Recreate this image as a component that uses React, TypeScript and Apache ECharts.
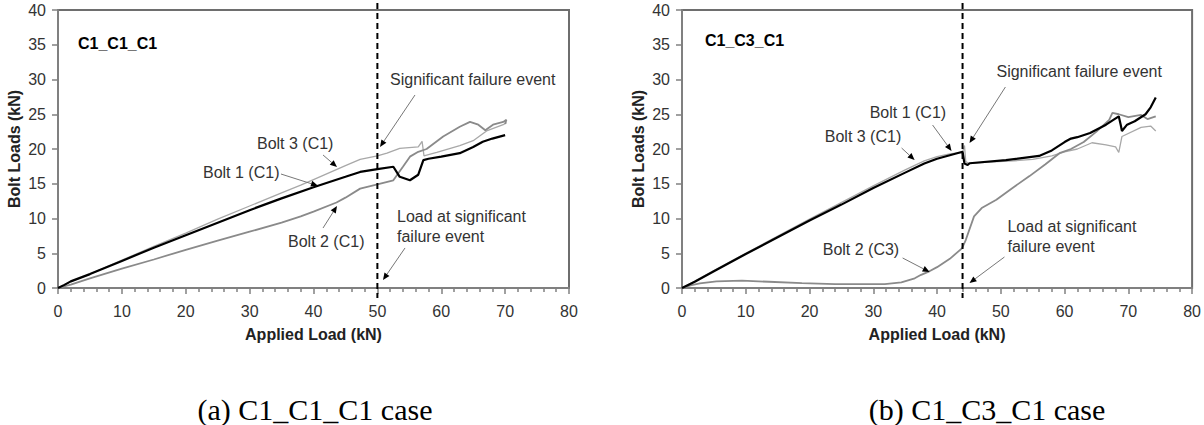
import React, { useEffect, useRef } from "react";
import * as echarts from "echarts";

type P = [number, number];

// ---------- data (Applied Load kN, Bolt Load kN) ----------
const xTicks = { min: 0, max: 80, interval: 10 };
const yTicks = { min: 0, max: 40, interval: 5 };

const leftBolt1: P[] = [
  [0, 0], [1, 0.45], [2, 0.95], [5, 2.0], [10, 3.9], [15, 5.8], [20, 7.6], [25, 9.4], [30, 11.2],
  [35, 12.9], [40, 14.5], [45, 16.0], [47.3, 16.7], [50, 17.1], [52.5, 17.45], [53.5, 16.0],
  [55.1, 15.5], [56.4, 16.3], [57.2, 18.4], [58, 18.6], [60, 18.9], [62.9, 19.4], [65, 20.3],
  [66.5, 21.05], [68, 21.5], [70, 22.0],
];
const leftBolt2: P[] = [
  [0, 0], [2, 0.5], [5, 1.4], [10, 2.8], [15, 4.1], [20, 5.5], [25, 6.8], [30, 8.1], [35, 9.4],
  [38, 10.3], [40, 11.0], [43.6, 12.3], [45, 13.0], [47.3, 14.3], [50, 14.9], [52.5, 15.5],
  [54, 17.45], [55.1, 18.9], [56.4, 19.6], [57.7, 20.0], [60.3, 21.8], [62.9, 23.2], [64.5, 23.9],
  [65.8, 23.5], [66.9, 22.7], [68.1, 23.5], [69.7, 23.9], [70.2, 24.2], [70.0, 23.6],
];
const leftBolt3: P[] = [
  [0, 0], [2, 0.9], [5, 2.0], [10, 4.0], [15, 6.0], [20, 7.9], [25, 9.9], [30, 11.8], [35, 13.7],
  [38, 14.8], [40, 15.6], [45, 17.6], [47.3, 18.5], [50, 19.0], [51.5, 19.4], [53.5, 20.1],
  [56.4, 20.3], [57.0, 21.1], [57.3, 19.0], [58, 19.2], [59.3, 19.5], [62.9, 20.5], [65, 21.2],
  [66.5, 22.2], [67.1, 22.6], [69.7, 23.5], [70.2, 23.8],
];

const rightBolt1: P[] = [
  [0, 0], [2, 0.9], [5, 2.4], [10, 4.9], [15, 7.3], [20, 9.7], [25, 12.0], [30, 14.4], [35, 16.6],
  [38, 17.9], [40, 18.6], [42, 19.1], [44.0, 19.6], [44.3, 17.9], [44.8, 17.7], [45.1, 17.95],
  [50.8, 18.4], [56, 19.0], [58, 19.8], [60, 21.0], [61, 21.5], [62, 21.7], [64, 22.3],
  [66.5, 23.5], [68.5, 24.7], [68.8, 23.5], [69, 22.6], [69.8, 23.5], [71, 24.0], [72.7, 25.0],
  [73.5, 26.0], [74.3, 27.4],
];
const rightBolt2: P[] = [
  [0, 0], [1.5, 0.4], [2.8, 0.67], [5.4, 0.95], [9.4, 1.05], [13.6, 0.9], [18.8, 0.7], [24, 0.55],
  [31.8, 0.55], [34.4, 0.8], [36.5, 1.4], [37.5, 1.9], [38.8, 2.4], [40, 3.0], [42, 4.2],
  [43.9, 5.7], [44.5, 6.9], [45.8, 10.3], [47, 11.5], [49.3, 12.7], [52, 14.5], [54.5, 16.1],
  [57, 17.8], [59.2, 19.4], [61, 20.0], [63, 21.0], [65, 22.5], [67, 24.2], [67.5, 25.2],
  [68.5, 25.0], [70, 24.6], [72, 24.9], [73, 24.3], [74.3, 24.7],
];
const rightBolt3: P[] = [
  [0, 0], [5, 2.5], [10, 5.0], [20, 9.9], [30, 14.7], [35, 17.0], [38, 18.3], [40, 18.9], [42, 19.3],
  [44, 19.5], [44.3, 20.5], [44.5, 18.2], [45, 17.9], [48, 18.1], [52, 18.3], [55, 18.5], [58, 19.0],
  [60, 19.6], [62, 20.0], [64.3, 20.9], [66.5, 20.6], [68, 20.3], [68.5, 19.5], [69, 21.8],
  [72, 23.1], [73.5, 23.3], [74.3, 22.6],
];

const failureLoads = [50, 44];
const caseTitles = ["C1_C1_C1", "C1_C3_C1"];
const captions = ["(a) C1_C1_C1 case", "(b) C1_C3_C1 case"];

// ---------- annotations (data coordinates) ----------
type Lbl = { text: string; at: P; bold?: boolean };
type Arr = { from: P; to: P };
const leftLabels: Lbl[] = [
  { text: caseTitles[0], at: [3.13, 35.25], bold: true },
  { text: "Significant failure event", at: [51.98, 29.93] },
  { text: "Bolt 3 (C1)", at: [31.15, 20.72] },
  { text: "Bolt 1 (C1)", at: [22.7, 16.55] },
  { text: "Bolt 2 (C1)", at: [36.01, 6.76] },
  { text: "Load at significant", at: [53.07, 10.22] },
  { text: "failure event", at: [53.07, 7.34] },
];
const leftArrows: Arr[] = [
  { from: [55.89, 27.77], to: [50.41, 20.29] },
  { from: [41.49, 19.14], to: [43.68, 17.4] },
  { from: [34.91, 16.4], to: [40.7, 14.7] },
  { from: [41.49, 8.63], to: [43.68, 11.8] },
  { from: [54.33, 5.76], to: [50.88, 1.15] },
];
const rightLabels: Lbl[] = [
  { text: caseTitles[1], at: [3.6, 35.68], bold: true },
  { text: "Bolt 1 (C1)", at: [29.43, 25.18] },
  { text: "Bolt 3 (C1)", at: [22.39, 21.87] },
  { text: "Significant failure event", at: [49.32, 31.08] },
  { text: "Bolt 2 (C3)", at: [22.07, 5.47] },
  { text: "Load at significant", at: [51.04, 8.78] },
  { text: "failure event", at: [51.04, 5.9] },
];
const rightArrows: Arr[] = [
  { from: [34.44, 20.14], to: [36.48, 18.42] },
  { from: [39.3, 23.45], to: [42.27, 19.71] },
  { from: [50.72, 28.92], to: [45.09, 20.86] },
  { from: [34.6, 4.32], to: [38.83, 2.3] },
  { from: [50.57, 4.46], to: [45.09, 0.72] },
];

const SANS = '"Liberation Sans", Arial, sans-serif';
const SERIF = '"Liberation Serif", "Times New Roman", serif';

function axisPair(i: number) {
  const x = {
    type: "value",
    gridIndex: i,
    min: xTicks.min,
    max: xTicks.max,
    interval: xTicks.interval,
    name: "Applied Load (kN)",
    nameLocation: "middle",
    nameGap: 38,
    nameTextStyle: { fontFamily: SANS, fontSize: 16, fontWeight: "bold", color: "#222" },
    axisLine: { show: true, onZero: false, lineStyle: { color: "#808080", width: 2 } },
    axisTick: { show: true, inside: false, length: 6, lineStyle: { color: "#808080", width: 1.5 } },
    minorTick: { show: true, splitNumber: 5, length: 4, lineStyle: { color: "#808080", width: 1.5 } },
    splitLine: { show: false },
    axisLabel: { fontFamily: SANS, fontSize: 16, color: "#333", margin: 15 },
  };
  const y = {
    type: "value",
    gridIndex: i,
    min: yTicks.min,
    max: yTicks.max,
    interval: yTicks.interval,
    name: "Bolt Loads (kN)",
    nameLocation: "middle",
    nameRotate: 90,
    nameGap: 36,
    nameTextStyle: { fontFamily: SANS, fontSize: 16, fontWeight: "bold", color: "#222" },
    axisLine: { show: true, onZero: false, lineStyle: { color: "#808080", width: 2 } },
    axisTick: { show: true, inside: false, length: 6, lineStyle: { color: "#808080", width: 1.5 } },
    splitLine: { show: false },
    axisLabel: { fontFamily: SANS, fontSize: 16, color: "#333", margin: 12 },
  };
  return { x, y };
}

function lineSeries(i: number, data: P[], color: string, width: number, z: number) {
  return {
    type: "line",
    xAxisIndex: i,
    yAxisIndex: i,
    data,
    showSymbol: false,
    symbol: "none",
    smooth: false,
    clip: false,
    lineStyle: { color, width },
    z,
  };
}

export default function App() {
  const ref = useRef<HTMLDivElement>(null);
  useEffect(() => {
    if (!ref.current) return;
    const chart = echarts.init(ref.current, null, { renderer: "svg" });
    const a0 = axisPair(0);
    const a1 = axisPair(1);
    chart.setOption({
      animation: false,
      backgroundColor: "#fff",
      grid: [
        { left: 58, top: 10, width: 511, height: 278, show: true, borderColor: "#6e6e6e", borderWidth: 2, containLabel: false },
        { left: 682, top: 10, width: 511, height: 278, show: true, borderColor: "#6e6e6e", borderWidth: 2, containLabel: false },
      ],
      xAxis: [a0.x, a1.x],
      yAxis: [a0.y, a1.y],
      series: [
        lineSeries(0, leftBolt3, "#a8a8a8", 1.3, 2),
        lineSeries(0, leftBolt2, "#8a8a8a", 1.8, 3),
        lineSeries(0, leftBolt1, "#000000", 2.2, 4),
        lineSeries(1, rightBolt3, "#a8a8a8", 1.3, 2),
        lineSeries(1, rightBolt2, "#8a8a8a", 1.8, 3),
        lineSeries(1, rightBolt1, "#000000", 2.2, 4),
      ],
    });

    const graphics: any[] = [];
    const toPx = (gi: number, p: P) => chart.convertToPixel({ gridIndex: gi } as any, p) as number[];

    const addPanel = (gi: number, labels: Lbl[], arrows: Arr[]) => {
      // dashed failure line
      const top = toPx(gi, [failureLoads[gi], yTicks.max]);
      const bot = toPx(gi, [failureLoads[gi], yTicks.min]);
      graphics.push({
        type: "line",
        z: 50,
        shape: { x1: top[0], y1: top[1] - 7, x2: bot[0], y2: bot[1] + 10 },
        style: { stroke: "#000", lineWidth: 2, lineDash: [6, 4] },
      });
      labels.forEach((l) => {
        const p = toPx(gi, l.at);
        graphics.push({
          type: "text",
          z: 60,
          x: p[0],
          y: p[1],
          style: {
            text: l.text,
            fill: l.bold ? "#000" : "#333",
            font: `${l.bold ? "bold " : ""}16px ${SANS}`,
            align: "left",
            verticalAlign: "middle",
            textAlign: "left",
            textVerticalAlign: "middle",
          },
        });
      });
      arrows.forEach((a) => {
        const f = toPx(gi, a.from);
        const t = toPx(gi, a.to);
        const dx = t[0] - f[0];
        const dy = t[1] - f[1];
        const len = Math.sqrt(dx * dx + dy * dy) || 1;
        const ux = dx / len;
        const uy = dy / len;
        const hl = 7;
        const hw = 3;
        const bx = t[0] - ux * hl;
        const by = t[1] - uy * hl;
        graphics.push({
          type: "line",
          z: 55,
          shape: { x1: f[0], y1: f[1], x2: bx, y2: by },
          style: { stroke: "#777", lineWidth: 1 },
        });
        graphics.push({
          type: "polygon",
          z: 56,
          shape: {
            points: [
              [t[0], t[1]],
              [bx - uy * hw, by + ux * hw],
              [bx + uy * hw, by - ux * hw],
            ],
          },
          style: { fill: "#000" },
        });
      });
    };
    addPanel(0, leftLabels, leftArrows);
    addPanel(1, rightLabels, rightArrows);

    const capX = [315, 987];
    captions.forEach((c, i) => {
      graphics.push({
        type: "text",
        z: 60,
        x: capX[i],
        y: 409,
        style: {
          text: c,
          fill: "#000",
          font: `30px ${SERIF}`,
          align: "center",
          verticalAlign: "middle",
          textAlign: "center",
          textVerticalAlign: "middle",
        },
      });
    });

    chart.setOption({ graphic: graphics });
    return () => chart.dispose();
  }, []);

  return (
    <div
      ref={ref}
      style={{ position: "fixed", left: 0, top: 0, width: 1204, height: 425, background: "#fff" }}
    />
  );
}
